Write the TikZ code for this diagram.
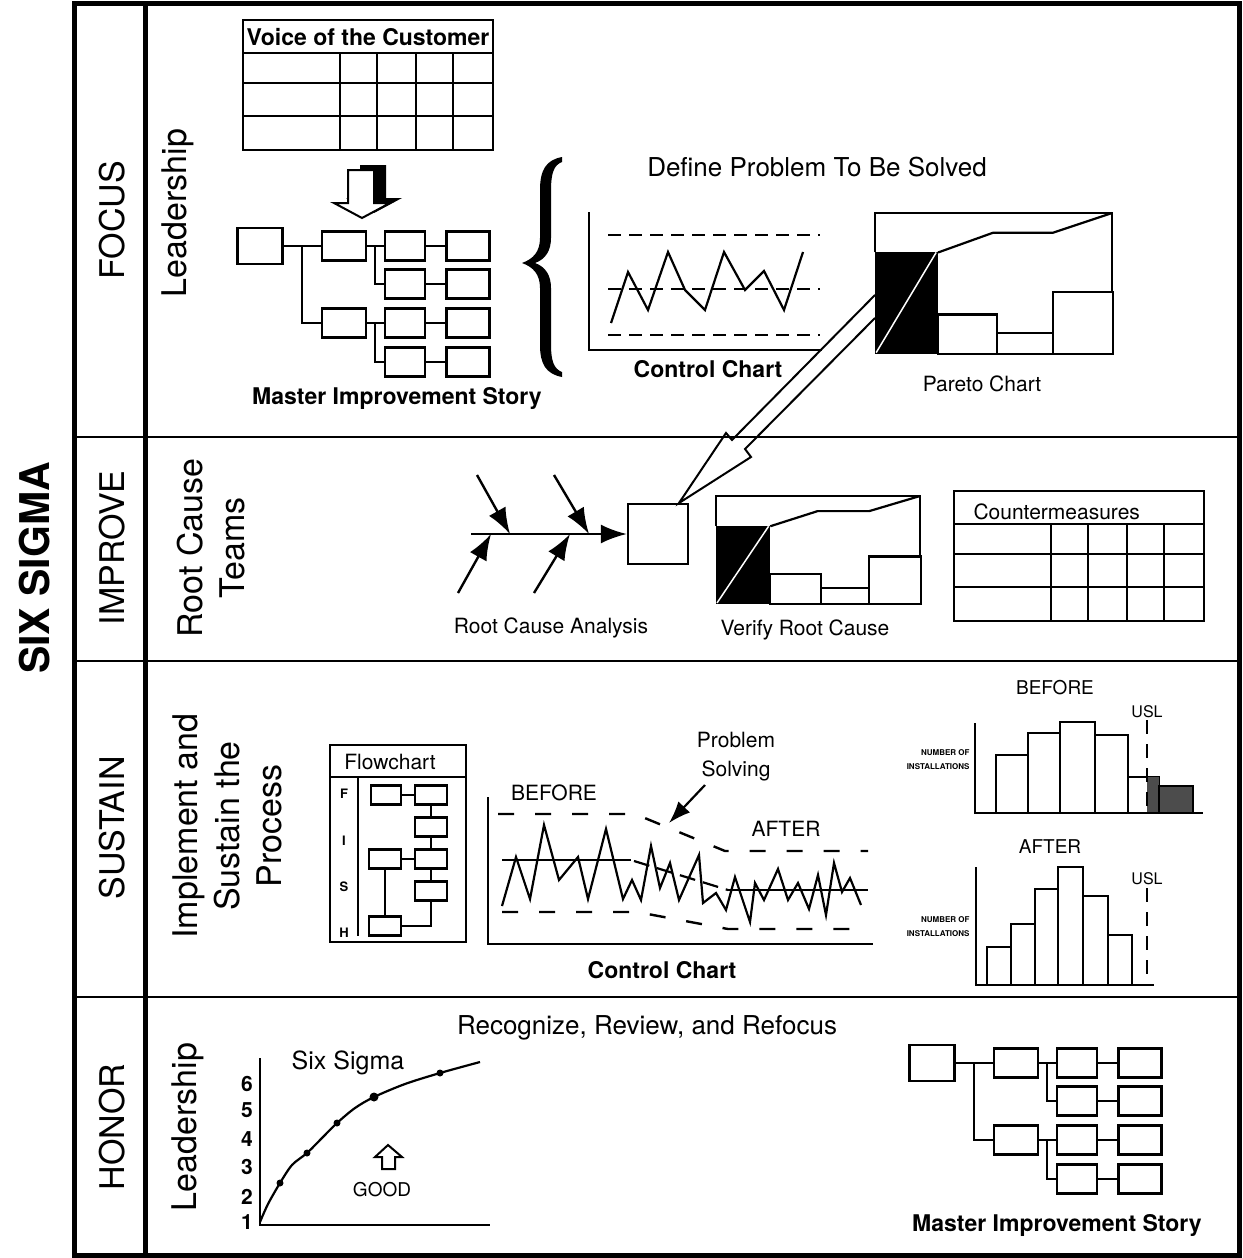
\documentclass[tikz,border=0pt]{standalone}
\usepackage{fontspec}
\setmainfont{TeX Gyre Heros}
\usetikzlibrary{arrows.meta}

% master improvement story tree, drawn in place
\newcommand{\mistree}{%
  \node[tree node, minimum width=45pt, minimum height=36pt] (root) at (260,246) {};
  \node[tree node, minimum width=44pt] (s1) at (344,246) {};
  \node[tree node, minimum width=44pt] (s2) at (344,323) {};
  \foreach \n/\r in {a/246, b/284, c/323, d/362}{
    \node[tree node, minimum width=40pt] (t\n) at (405,\r) {};
    \node[tree node, minimum width=43pt] (u\n) at (468,\r) {};
    \draw[tree line] (t\n) -- (u\n);}
  \draw[tree line] (root) -- (s1) (302,246) |- (s2);
  \draw[tree line] (s1) -- (ta) (375,246) |- (tb);
  \draw[tree line] (s2) -- (tc) (375,323) |- (td);
}
% empty table grid, 250 x 130
\newcommand{\gridtable}{%
  \draw[grid line] (0,0) rectangle (250,130);
  \draw[grid line] (0,33) -- (250,33) (0,63) -- (250,63) (0,96) -- (250,96);
  \foreach \c in {97,134,173,210} \draw[grid line] (\c,33) -- (\c,130);
}
% pareto chart in a unit box
\newcommand{\paretochart}{%
  \fill (0,0) rectangle (0.266,0.72);
  \draw[white, line width=1.5pt] (0.005,0.01) -- (0.258,0.72);
  \draw[line width=2.4pt] (0,0.72) -- (0,1) -- (1,1) -- (1,0.44);
  \draw[line width=2.4pt] (0.266,0) rectangle (0.515,0.28)
    (0.515,0) rectangle (0.751,0.15) (0.751,0) rectangle (1.005,0.44);
  \draw[line width=2.2pt] (0.266,0.72) -- (0.498,0.86) -- (0.751,0.86) -- (1,1);
}

\begin{document}
\begin{tikzpicture}[x=1pt, y=-1pt,
  sec label/.style={rotate=90, align=center, font=\fontsize{34}{42}\selectfont},
  tree node/.style={draw, line width=2.4pt, minimum width=42pt, minimum height=29pt, inner sep=0pt},
  tree line/.style={line width=2.2pt},
  grid line/.style={line width=2.4pt},
  flow box/.style={draw, line width=2.2pt, minimum width=31pt, minimum height=19pt, inner sep=0pt},
  bar/.style={draw, fill=white, line width=2.5pt},
  bold cap/.style={font=\bfseries\fontsize{23}{28}\selectfont},
  plain cap/.style={font=\fontsize{21}{26}\selectfont},
  chart line/.style={line width=2.2pt},
  limit/.style={line width=2.6pt, dash pattern=on 13pt off 8pt},
  limit2/.style={line width=2.4pt, dash pattern=on 16pt off 21pt},
  usl/.style={line width=2pt, dash pattern=on 14pt off 10pt},
  tiny/.style={align=right, anchor=east, font=\bfseries\fontsize{8}{14}\selectfont},
  fish/.style={line width=2.4pt, -{Latex[length=26pt,width=19pt]}}]

\useasboundingbox (0,0) rectangle (1242,1258);

% frame
\draw[line width=5pt] (74,3) rectangle (1239,1255);
\draw[line width=5pt] (145,3) -- (145,1255);
\foreach \r in {437,661,997} \draw[line width=2pt] (74,\r) -- (1239,\r);

\node[sec label, font=\bfseries\fontsize{41}{48}\selectfont] (six) at (35,568) {SIX SIGMA};
\node[sec label] (focus) at (112,220) {FOCUS};
\node[sec label] (improve) at (112,548) {IMPROVE};
\node[sec label] (sustain) at (112,828) {SUSTAIN};
\node[sec label] (honor) at (112,1127) {HONOR};
\node[sec label] (lead1) at (178,213) {Leadership};
\node[sec label] (rct) at (211,548) {Root Cause\\Teams};
\node[sec label] (impl) at (227,826) {Implement and\\Sustain the\\Process};
\node[sec label] (lead2) at (188,1127) {Leadership};

% FOCUS
\begin{scope}[shift={(243,20)}] \gridtable \end{scope}
\node[font=\bfseries\fontsize{23}{26}\selectfont] (voc) at (368,37) {Voice of the Customer};
\fill[shift={(12,-5)}] (348,170) -- (374,170) -- (374,203) -- (390,203) -- (362,218) -- (334,203) -- (348,203) -- cycle;
\filldraw[fill=white, line width=2pt] (348,170) -- (374,170) -- (374,203) -- (390,203) -- (362,218) -- (334,203) -- (348,203) -- cycle;
\begin{scope}[name prefix=top-] \mistree \end{scope}
\node[bold cap] (mis1) at (397,398) {Master Improvement Story};

% brace
\fill (562,157) .. controls (546,160) and (540,170) .. (540,190) -- (540,238)
  .. controls (540,252) and (533,259) .. (522,263)
  .. controls (533,267) and (540,274) .. (540,288) -- (540,345)
  .. controls (540,364) and (546,374) .. (562,377) -- (562,372)
  .. controls (554,369) and (551,361) .. (551,345) -- (551,288)
  .. controls (551,276) and (546,267) .. (535,263)
  .. controls (546,259) and (551,250) .. (551,238) -- (551,190)
  .. controls (551,173) and (554,165) .. (562,162) -- cycle;
\node[font=\fontsize{26}{30}\selectfont] (define) at (817,167) {Define Problem To Be Solved};

\draw[chart line] (589,212) -- (589,350) -- (822,350);
\foreach \r in {235,289,335} \draw[limit] (608,\r) -- (820,\r);
\draw[chart line] plot coordinates {(611,323) (628,272) (648,310) (668,252) (685,290) (705,310) (724,252) (745,290) (764,271) (784,310) (803,252)};
\node[bold cap] (cc1) at (708,369) {Control Chart};

\begin{scope}[shift={(875,354)}, x=237pt, y=141pt] \paretochart \end{scope}
\node[plain cap] (pc) at (982,384) {Pareto Chart};

% IMPROVE
\node[draw, line width=2.4pt, minimum size=60pt, inner sep=0pt] (rcbox) at (658,534) {};
\coordinate (parA) at (875,295);
\coordinate (parB) at (875,318);
\coordinate (tip) at (679,503);
\draw[line width=2pt] (parA) -- (732,440) -- (726,433) -- (tip) -- (751,457) -- (745,449) -- (parB);

\coordinate (spine) at (471,534);
\draw[fish] (spine) -- (rcbox.west);
\foreach \i/\sx/\sy/\ex in {1/477/475/510, 2/554/475/589, 3/458/593/491, 4/534/593/570}{
  \coordinate (b\i s) at (\sx,\sy);
  \coordinate (b\i e) at (\ex,534);
  \draw[fish] (b\i s) -- (b\i e);}
\node[plain cap] (rca) at (551,628) {Root Cause Analysis};

\begin{scope}[shift={(716,604)}, x=204pt, y=108pt] \paretochart \end{scope}
\node[plain cap] (vrc) at (805,630) {Verify Root Cause};

\begin{scope}[shift={(954,491)}] \gridtable \end{scope}
\node[plain cap, anchor=west] (cm) at (970,512) {Countermeasures};

% SUSTAIN
\draw[line width=2.4pt] (330,745) rectangle (466,942);
\draw[line width=2.2pt] (330,777) -- (466,777) (358,777) -- (358,936);
\node[plain cap] (fc) at (390,762) {Flowchart};
\foreach \l/\r in {F/794, I/841, S/887, H/933}
  \node[font=\bfseries\fontsize{13}{15}\selectfont] (fis\l) at (344,\r) {\l};
\node[flow box, minimum width=30pt] (f1) at (386,795) {};
\node[flow box, minimum width=32pt] (f2) at (431,795) {};
\node[flow box, minimum width=32pt] (f3) at (431,827) {};
\node[flow box, minimum width=32pt] (f4) at (385,859) {};
\node[flow box, minimum width=32pt] (f5) at (431,859) {};
\node[flow box, minimum width=32pt] (f6) at (431,891) {};
\node[flow box, minimum width=32pt] (f7) at (385,926) {};
\draw[tree line] (f1) -- (f2) (f2) -- (f3) (f3) -- (f5) (f4) -- (f5) (f5) -- (f6) (f4) -- (f7) (f6) |- (f7);

\draw[chart line] (488,797) -- (488,944) -- (873,944);
\draw[limit2] (498,814) -- (635,814) -- (725,851) -- (868,851);
\draw[limit2] (502,912) -- (637,912) -- (728,929) -- (868,929);
\draw[chart line] (502,860) -- (631,860);
\draw[chart line, dash pattern=on 16pt off 8pt] (634,861) -- (728,890);
\draw[chart line] (728,890) -- (868,890);
\draw[chart line] plot coordinates {(502,906) (516,857) (530,899) (544,825) (559,880) (578,857) (588,899) (606,829) (623,899) (632,880) (641,900) (651,846) (660,888) (670,863) (679,900) (699,855) (703,903) (716,893) (726,910) (735,877) (750,922) (755,883) (764,900) (778,869) (788,900) (798,883) (809,909) (818,875) (826,915) (834,863) (842,892) (850,878) (861,905)};
\node[plain cap] (before) at (554,793) {BEFORE};
\node[plain cap] (after) at (786,829) {AFTER};
\node[plain cap, align=center, font=\fontsize{21}{29}\selectfont] (ps) at (736,757) {Problem\\Solving};
\coordinate (psfrom) at (705,785);
\coordinate (pstip) at (669,823);
\draw[line width=2.2pt, -{Latex[length=22pt,width=16pt]}] (psfrom) -- (pstip);
\node[bold cap] (cc2) at (662,970) {Control Chart};

% histograms
\node[font=\fontsize{19}{22}\selectfont] (hb) at (1055,688) {BEFORE};
\node[font=\fontsize{16}{18}\selectfont] (uslb) at (1147,712) {USL};
\foreach \a/\b/\t in {996/1028/755, 1028/1060/733, 1060/1095/722, 1095/1128/735, 1128/1159/777}
  \draw[bar] (\a,\t) rectangle (\b,813);
\fill[black!70] (1147,777) rectangle (1159,813);
\draw[bar, fill=black!70] (1159,786) rectangle (1193,813);
\draw[usl] (1147,720) -- (1147,813);
\draw[chart line] (975,723) -- (975,813) -- (1203,813);
\node[tiny] (nob) at (973,760) {NUMBER OF\\INSTALLATIONS};

\node[font=\fontsize{19}{22}\selectfont] (ha) at (1050,847) {AFTER};
\node[font=\fontsize{16}{18}\selectfont] (usla) at (1147,879) {USL};
\foreach \a/\b/\t in {987/1011/947, 1011/1035/924, 1035/1058/889, 1058/1083/867, 1083/1108/896, 1108/1132/935}
  \draw[bar] (\a,\t) rectangle (\b,985);
\draw[usl] (1147,888) -- (1147,983);
\draw[chart line] (976,867) -- (976,985) -- (1154,985);
\node[tiny] (noa) at (973,927) {NUMBER OF\\INSTALLATIONS};

% HONOR
\node[font=\fontsize{26}{30}\selectfont] (rrr) at (647,1028) {Recognize, Review, and Refocus};
\draw[chart line] (260,1058) -- (260,1225) -- (490,1225);
\foreach \v/\r in {1/1222, 2/1197, 3/1167, 4/1139, 5/1110, 6/1084}
  \node[font=\bfseries\fontsize{21}{22}\selectfont] (n\v) at (247,\r) {\v};
\draw[chart line] plot[smooth] coordinates {(260,1222) (268,1204) (280,1183) (292,1165) (307,1153) (322,1138) (337,1123) (355,1108) (374,1097) (405,1084) (440,1073) (480,1062)};
\foreach \px/\py in {280/1183, 307/1153, 337/1123, 440/1073} \fill (\px,\py) circle (3.5pt);
\fill (374,1097) circle (4.5pt);
\node[font=\fontsize{25}{28}\selectfont] (ss) at (348,1063) {Six Sigma};
\draw[line width=2pt] (382,1169) -- (395,1169) -- (395,1157) -- (402,1157) -- (388,1145) -- (375,1157) -- (382,1157) -- cycle;
\node[font=\fontsize{19}{22}\selectfont] (good) at (382,1190) {GOOD};

\begin{scope}[shift={(672,817)}, name prefix=bot-] \mistree \end{scope}
\node[bold cap] (mis2) at (1057,1225) {Master Improvement Story};
\end{tikzpicture}
\end{document}
